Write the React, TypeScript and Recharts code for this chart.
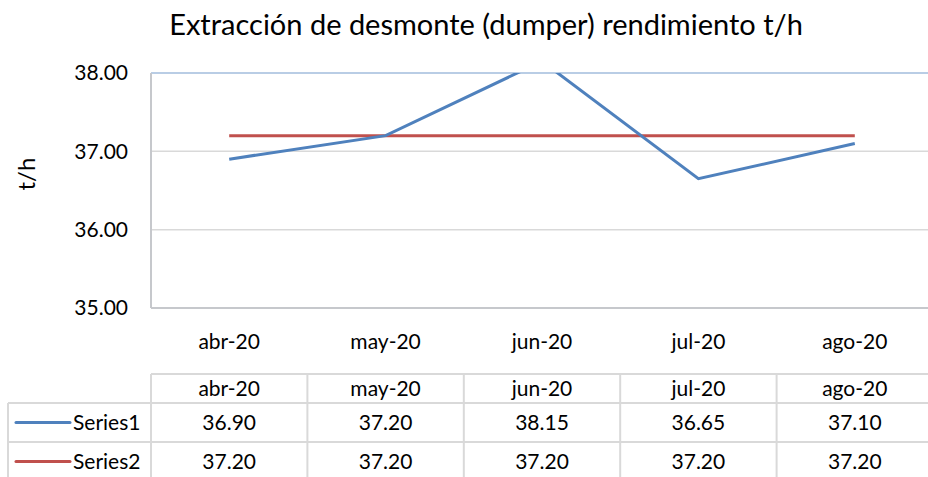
import React from 'react';
import { LineChart, Line, XAxis, YAxis, CartesianGrid, ReferenceLine } from 'recharts';

const categories = ['abr-20', 'may-20', 'jun-20', 'jul-20', 'ago-20'];
const series1 = [36.9, 37.2, 38.15, 36.65, 37.1];
const series2 = [37.2, 37.2, 37.2, 37.2, 37.2];
const seriesNames = ['Series1', 'Series2'];
const yTicks = [35, 36, 37, 38];

const data = categories.map((c, i) => ({ cat: c, s1: series1[i], s2: series2[i] }));

const FONT = 'Lato, "Open Sans", sans-serif';
const BLUE = '#4F81BD';
const RED = '#C0504D';

const CHART_W = 940;
const CHART_H = 370;
const PLOT_L = 151;
const PLOT_R = 933;
const PLOT_T = 73;
const PLOT_B = 308;
const COL_W = (PLOT_R - PLOT_L) / categories.length;

const TABLE_TOP = 374;
const ROW1 = 403;
const ROW2 = 442;
const ROW3 = 481;
const TABLE_LEFT = 8;
const GRID = '#D9D9D9';
const FS = 21;

function DataTable() {
  const rows = [
    { name: seriesNames[0], color: BLUE, vals: series1, top: ROW1, bottom: ROW2 },
    { name: seriesNames[1], color: RED, vals: series2, top: ROW2, bottom: ROW3 },
  ];
  return (
    <svg width={928} height={477} style={{ position: 'absolute', left: 0, top: 0, pointerEvents: 'none' }}>
      <line x1={PLOT_L} x2={928} y1={TABLE_TOP} y2={TABLE_TOP} stroke={GRID} strokeWidth={2} />
      <line x1={TABLE_LEFT} x2={928} y1={ROW1} y2={ROW1} stroke={GRID} strokeWidth={2} />
      <line x1={TABLE_LEFT} x2={928} y1={ROW2} y2={ROW2} stroke={GRID} strokeWidth={2} />
      <line x1={TABLE_LEFT} x2={TABLE_LEFT} y1={ROW1} y2={477} stroke={GRID} strokeWidth={2} />
      {categories.map((c, i) => (
        <line key={c} x1={PLOT_L + i * COL_W} x2={PLOT_L + i * COL_W} y1={TABLE_TOP} y2={477} stroke={GRID} strokeWidth={2} />
      ))}
      {categories.map((c, i) => (
        <text key={c} x={PLOT_L + (i + 0.5) * COL_W} y={(TABLE_TOP + ROW1) / 2 + 7.5} textAnchor="middle" fontSize={FS} fontFamily={FONT} fill="#000">
          {c}
        </text>
      ))}
      {rows.map((r) => (
        <g key={r.name}>
          <line x1={16} x2={70} y1={(r.top + r.bottom) / 2} y2={(r.top + r.bottom) / 2} stroke={r.color} strokeWidth={3} strokeLinecap="round" />
          <text x={73} y={(r.top + r.bottom) / 2 + 7.5} fontSize={FS} fontFamily={FONT} fill="#000">{r.name}</text>
          {r.vals.map((v, i) => (
            <text key={i} x={PLOT_L + (i + 0.5) * COL_W} y={(r.top + r.bottom) / 2 + 7.5} textAnchor="middle" fontSize={FS} fontFamily={FONT} fill="#000">
              {v.toFixed(2)}
            </text>
          ))}
        </g>
      ))}
    </svg>
  );
}

export default function App() {
  return (
    <div style={{ position: 'absolute', left: 0, top: 0, width: 928, height: 477, overflow: 'hidden', background: '#fff', fontFamily: FONT }}>
      <div style={{ position: 'absolute', left: 0, top: 5, width: 972, textAlign: 'center', fontSize: 29, fontFamily: FONT, color: '#000', lineHeight: '38px' }}>
        Extracción de desmonte (dumper) rendimiento t/h
      </div>
      <div style={{ position: 'absolute', left: 0, top: 0 }}>
        <LineChart
          width={CHART_W}
          height={CHART_H}
          data={data}
          margin={{ top: PLOT_T, right: CHART_W - PLOT_R, bottom: CHART_H - PLOT_B - 40, left: 0 }}
        >
          <CartesianGrid vertical={false} stroke={GRID} strokeWidth={1.5} />
          <XAxis
            dataKey="cat"
            height={40}
            padding={{ left: COL_W / 2, right: COL_W / 2 }}
            tickLine={false}
            tickSize={0}
            tickMargin={26}
            axisLine={{ stroke: '#C6C8CC', strokeWidth: 2 }}
            tick={{ fontSize: FS, fontFamily: FONT, fill: '#000' }}
            interval={0}
          />
          <YAxis
            width={PLOT_L}
            domain={[35, 38]}
            ticks={yTicks}
            allowDataOverflow
            tickLine={false}
            tickSize={0}
            tickMargin={23}
            axisLine={{ stroke: '#C6C8CC', strokeWidth: 2 }}
            tickFormatter={(v: number) => v.toFixed(2)}
            tick={{ fontSize: FS, fontFamily: FONT, fill: '#000' }}
            label={{ value: 't/h', angle: -90, position: 'insideLeft', offset: 26, fontSize: 24, fontFamily: FONT, fill: '#000' }}
          />
          <ReferenceLine y={38} stroke="#B9CDE5" strokeWidth={2} />
          <Line dataKey="s2" stroke={RED} strokeWidth={3} dot={false} isAnimationActive={false} />
          <Line dataKey="s1" stroke={BLUE} strokeWidth={3} dot={false} isAnimationActive={false} />
        </LineChart>
      </div>
      <DataTable />
    </div>
  );
}
